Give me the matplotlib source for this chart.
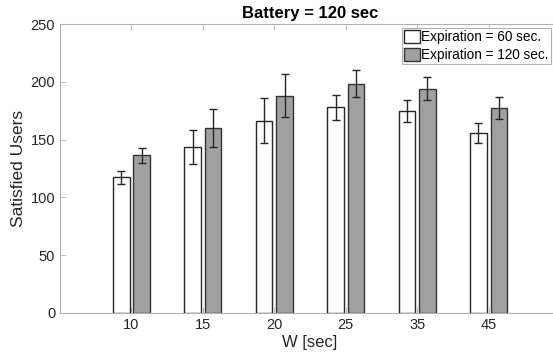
import matplotlib.pyplot as plt
import numpy as np

plt.rcParams['font.family'] = ['Liberation Sans', 'DejaVu Sans']

w_labels = ['10', '15', '20', '25', '35', '45']
users_60 = [117.5, 143.5, 166.5, 178, 175, 155.5]
err_60 = [5.5, 14.5, 19.5, 11, 9.5, 8.5]
users_120 = [136.5, 160, 188, 198.5, 194, 177.5]
err_120 = [6.5, 16.5, 18.5, 11.5, 10, 9.5]

fig = plt.figure(figsize=(5.53, 3.62), dpi=100)
ax = fig.add_axes([60 / 553, 49 / 362, 500 / 553, 289 / 362])

x = np.arange(1, len(w_labels) + 1)
off = 0.143
bw = 0.232
ax.bar(x - off, users_60, bw, color='white', edgecolor='#262626', linewidth=1.0,
       label='Expiration = 60 sec.', zorder=2)
ax.bar(x + off, users_120, bw, color='#a0a0a0', edgecolor='#333333', linewidth=1.0,
       label='Expiration = 120 sec.', zorder=2)
ax.errorbar(x - off, users_60, yerr=err_60, fmt='none', ecolor='#262626',
            elinewidth=1.0, capsize=3, capthick=1.0, zorder=3)
ax.errorbar(x + off, users_120, yerr=err_120, fmt='none', ecolor='#262626',
            elinewidth=1.0, capsize=3, capthick=1.0, zorder=3)

ax.set_xlim(0, 7)
ax.set_ylim(0, 250)
ax.set_xticks(x)
ax.set_xticklabels(w_labels)
ax.set_yticks([0, 50, 100, 150, 200, 250])
ax.tick_params(direction='in', length=4, width=0.6, colors='#b0b0b0',
               labelcolor='#262626', labelsize=10.5, top=True, right=True)
for s in ax.spines.values():
    s.set_color('#b0b0b0')
    s.set_linewidth(0.8)

ax.set_xlabel('W [sec]', fontsize=12, color='#262626', labelpad=2)
ax.set_ylabel('Satisfied Users', fontsize=12.5, color='#262626', labelpad=3)
ax.set_title('Battery = 120 sec', fontsize=12, fontweight='bold', pad=4)

leg = ax.legend(loc='upper left', bbox_to_anchor=(402 / 553, 1 - 28 / 362),
                bbox_transform=fig.transFigure, fontsize=9.8, fancybox=False,
                framealpha=1, edgecolor='#b0b0b0', handlelength=1.15,
                handleheight=1.1, handletextpad=0.12, borderpad=0.15,
                labelspacing=0.25, borderaxespad=0)
leg.get_frame().set_linewidth(0.8)

fig.savefig('out.png', dpi=100)
